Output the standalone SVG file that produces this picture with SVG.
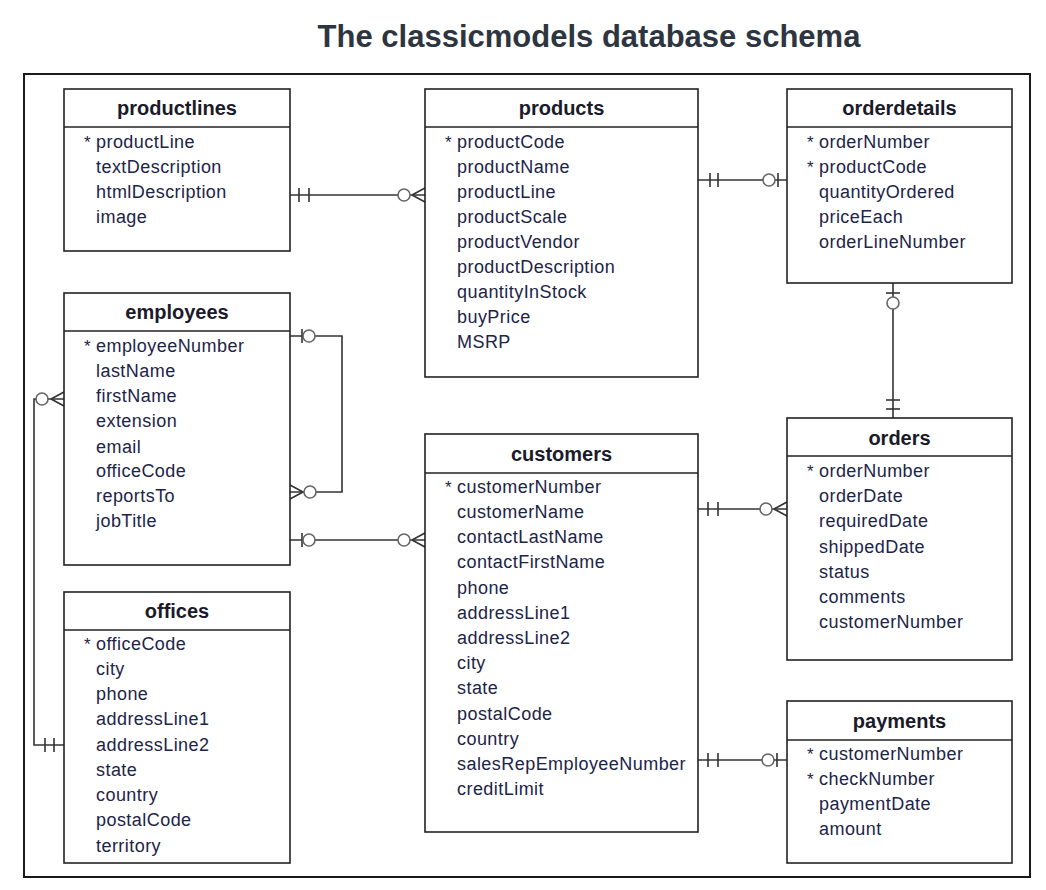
<svg xmlns="http://www.w3.org/2000/svg" width="1046" height="890" viewBox="0 0 1046 890">
<style>
.bg{fill:#ffffff}
.frame{fill:none;stroke:#1a1a1a;stroke-width:2}
.box{fill:#ffffff;stroke:#222222;stroke-width:1.6}
.div{stroke:#222222;stroke-width:1.6}
.ttl{font-family:"Liberation Sans",Arial,sans-serif;font-size:20px;font-weight:bold;fill:#1a1a2a;text-anchor:middle}
.f{font-family:"Liberation Sans",Arial,sans-serif;font-size:18px;letter-spacing:0.45px;fill:#1c2448}
.ast{font-family:"Liberation Sans",Arial,sans-serif;font-size:17px;fill:#1c2448}
.main{font-family:"Liberation Sans",Arial,sans-serif;font-size:31px;font-weight:bold;fill:#2d3540;text-anchor:middle}
.ln{fill:none;stroke:#333333;stroke-width:1.6}
.tk{stroke:#333333;stroke-width:1.6}
.ci{fill:#ffffff;stroke:#666666;stroke-width:1.6}
</style>
<rect class="bg" x="0" y="0" width="1046" height="890"/>
<text class="main" x="589" y="47">The classicmodels database schema</text>
<rect class="frame" x="24" y="74" width="1006" height="803"/>

<g id="connectors">
  <g id="c-productlines-products">
    <line class="ln" x1="290" y1="195" x2="425" y2="195"/>
    <line class="tk" x1="299" y1="188" x2="299" y2="202"/>
    <line class="tk" x1="309" y1="188" x2="309" y2="202"/>
    <path class="ln" d="M412,195 L425,188 M412,195 L425,202"/>
    <circle class="ci" cx="404" cy="195" r="6"/>
  </g>
  <g id="c-products-orderdetails">
    <line class="ln" x1="698" y1="180" x2="787" y2="180"/>
    <line class="tk" x1="710" y1="173" x2="710" y2="187"/>
    <line class="tk" x1="718" y1="173" x2="718" y2="187"/>
    <line class="tk" x1="778" y1="173" x2="778" y2="187"/>
    <circle class="ci" cx="769" cy="180" r="6"/>
  </g>
  <g id="c-orderdetails-orders">
    <line class="ln" x1="893" y1="283" x2="893" y2="418"/>
    <line class="tk" x1="886" y1="293" x2="900" y2="293"/>
    <circle class="ci" cx="893" cy="303" r="6"/>
    <line class="tk" x1="886" y1="400" x2="900" y2="400"/>
    <line class="tk" x1="886" y1="409" x2="900" y2="409"/>
  </g>
  <g id="c-employees-self">
    <path class="ln" d="M290,336 H342 V492 H290"/>
    <line class="tk" x1="302" y1="329" x2="302" y2="343"/>
    <circle class="ci" cx="309" cy="336" r="6"/>
    <path class="ln" d="M303,492 L290,485 M303,492 L290,499"/>
    <circle class="ci" cx="310" cy="492" r="6"/>
  </g>
  <g id="c-employees-customers">
    <line class="ln" x1="290" y1="540" x2="425" y2="540"/>
    <line class="tk" x1="302" y1="533" x2="302" y2="547"/>
    <circle class="ci" cx="309" cy="540" r="6"/>
    <path class="ln" d="M412,540 L425,533 M412,540 L425,547"/>
    <circle class="ci" cx="404" cy="540" r="6"/>
  </g>
  <g id="c-offices-employees">
    <path class="ln" d="M64,745 H34 V399 H64"/>
    <line class="tk" x1="45" y1="738" x2="45" y2="752"/>
    <line class="tk" x1="54" y1="738" x2="54" y2="752"/>
    <path class="ln" d="M51,399 L64,392 M51,399 L64,406"/>
    <circle class="ci" cx="42" cy="399" r="6"/>
  </g>
  <g id="c-customers-orders">
    <line class="ln" x1="698" y1="509" x2="787" y2="509"/>
    <line class="tk" x1="708" y1="502" x2="708" y2="516"/>
    <line class="tk" x1="718" y1="502" x2="718" y2="516"/>
    <path class="ln" d="M774,509 L787,502 M774,509 L787,516"/>
    <circle class="ci" cx="766" cy="509" r="6"/>
  </g>
  <g id="c-customers-payments">
    <line class="ln" x1="698" y1="760" x2="787" y2="760"/>
    <line class="tk" x1="708" y1="753" x2="708" y2="767"/>
    <line class="tk" x1="718" y1="753" x2="718" y2="767"/>
    <line class="tk" x1="777" y1="753" x2="777" y2="767"/>
    <circle class="ci" cx="768" cy="760" r="6"/>
  </g>
</g>

<g id="productlines">
  <rect class="box" x="64" y="89" width="226" height="162"/>
  <line class="div" x1="64" y1="127" x2="290" y2="127"/>
  <text class="ttl" x="177" y="115">productlines</text>
  <text class="ast" x="84" y="148">*</text>
  <text class="f" x="96" y="148">productLine</text>
  <text class="f" x="96" y="173">textDescription</text>
  <text class="f" x="96" y="198">htmlDescription</text>
  <text class="f" x="96" y="223">image</text>
</g>

<g id="products">
  <rect class="box" x="425" y="89" width="273" height="288"/>
  <line class="div" x1="425" y1="127" x2="698" y2="127"/>
  <text class="ttl" x="561.5" y="115">products</text>
  <text class="ast" x="445" y="148">*</text>
  <text class="f" x="457" y="148">productCode</text>
  <text class="f" x="457" y="173">productName</text>
  <text class="f" x="457" y="198">productLine</text>
  <text class="f" x="457" y="223">productScale</text>
  <text class="f" x="457" y="248">productVendor</text>
  <text class="f" x="457" y="273">productDescription</text>
  <text class="f" x="457" y="298">quantityInStock</text>
  <text class="f" x="457" y="323">buyPrice</text>
  <text class="f" x="457" y="348">MSRP</text>
</g>

<g id="orderdetails">
  <rect class="box" x="787" y="89" width="225" height="194"/>
  <line class="div" x1="787" y1="127" x2="1012" y2="127"/>
  <text class="ttl" x="899.5" y="115">orderdetails</text>
  <text class="ast" x="807" y="148">*</text>
  <text class="f" x="819" y="148">orderNumber</text>
  <text class="ast" x="807" y="173">*</text>
  <text class="f" x="819" y="173">productCode</text>
  <text class="f" x="819" y="198">quantityOrdered</text>
  <text class="f" x="819" y="223">priceEach</text>
  <text class="f" x="819" y="248">orderLineNumber</text>
</g>

<g id="employees">
  <rect class="box" x="64" y="293" width="226" height="272"/>
  <line class="div" x1="64" y1="331" x2="290" y2="331"/>
  <text class="ttl" x="177" y="319">employees</text>
  <text class="ast" x="84" y="352">*</text>
  <text class="f" x="96" y="352">employeeNumber</text>
  <text class="f" x="96" y="377">lastName</text>
  <text class="f" x="96" y="402">firstName</text>
  <text class="f" x="96" y="427">extension</text>
  <text class="f" x="96" y="453">email</text>
  <text class="f" x="96" y="477">officeCode</text>
  <text class="f" x="96" y="502">reportsTo</text>
  <text class="f" x="96" y="527">jobTitle</text>
</g>

<g id="customers">
  <rect class="box" x="425" y="434" width="273" height="398"/>
  <line class="div" x1="425" y1="473" x2="698" y2="473"/>
  <text class="ttl" x="561.5" y="461">customers</text>
  <text class="ast" x="445" y="493">*</text>
  <text class="f" x="457" y="493">customerNumber</text>
  <text class="f" x="457" y="518">customerName</text>
  <text class="f" x="457" y="543">contactLastName</text>
  <text class="f" x="457" y="568">contactFirstName</text>
  <text class="f" x="457" y="594">phone</text>
  <text class="f" x="457" y="619">addressLine1</text>
  <text class="f" x="457" y="644">addressLine2</text>
  <text class="f" x="457" y="669">city</text>
  <text class="f" x="457" y="694">state</text>
  <text class="f" x="457" y="720">postalCode</text>
  <text class="f" x="457" y="745">country</text>
  <text class="f" x="457" y="770">salesRepEmployeeNumber</text>
  <text class="f" x="457" y="795">creditLimit</text>
</g>

<g id="orders">
  <rect class="box" x="787" y="418" width="225" height="242"/>
  <line class="div" x1="787" y1="456" x2="1012" y2="456"/>
  <text class="ttl" x="899.5" y="445">orders</text>
  <text class="ast" x="807" y="477">*</text>
  <text class="f" x="819" y="477">orderNumber</text>
  <text class="f" x="819" y="502">orderDate</text>
  <text class="f" x="819" y="527">requiredDate</text>
  <text class="f" x="819" y="553">shippedDate</text>
  <text class="f" x="819" y="578">status</text>
  <text class="f" x="819" y="603">comments</text>
  <text class="f" x="819" y="628">customerNumber</text>
</g>

<g id="offices">
  <rect class="box" x="64" y="592" width="226" height="271"/>
  <line class="div" x1="64" y1="630" x2="290" y2="630"/>
  <text class="ttl" x="177" y="618">offices</text>
  <text class="ast" x="84" y="650">*</text>
  <text class="f" x="96" y="650">officeCode</text>
  <text class="f" x="96" y="675">city</text>
  <text class="f" x="96" y="700">phone</text>
  <text class="f" x="96" y="725">addressLine1</text>
  <text class="f" x="96" y="751">addressLine2</text>
  <text class="f" x="96" y="776">state</text>
  <text class="f" x="96" y="801">country</text>
  <text class="f" x="96" y="826">postalCode</text>
  <text class="f" x="96" y="852">territory</text>
</g>

<g id="payments">
  <rect class="box" x="787" y="701" width="225" height="162"/>
  <line class="div" x1="787" y1="740" x2="1012" y2="740"/>
  <text class="ttl" x="899.5" y="728">payments</text>
  <text class="ast" x="807" y="760">*</text>
  <text class="f" x="819" y="760">customerNumber</text>
  <text class="ast" x="807" y="785">*</text>
  <text class="f" x="819" y="785">checkNumber</text>
  <text class="f" x="819" y="810">paymentDate</text>
  <text class="f" x="819" y="835">amount</text>
</g>
</svg>
